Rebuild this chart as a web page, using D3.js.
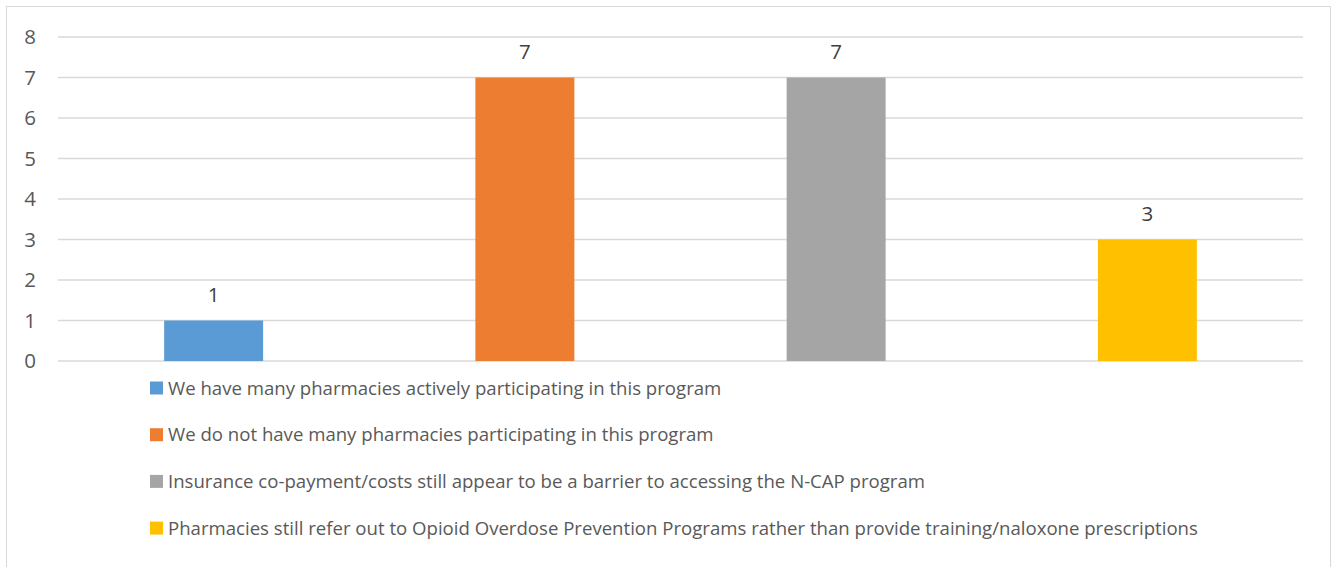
<!DOCTYPE html>
<html>
<head>
<meta charset="utf-8">
<script src="https://cdn.jsdelivr.net/npm/d3@7"></script>
<style>
  body { margin: 0; background: #fff; }
  svg { display: block; }
</style>
</head>
<body>
<div id="chart-area"></div>
<script>
var categories = [
    "We have many pharmacies actively participating in this program",
    "We do not have many pharmacies participating in this program",
    "Insurance co-payment/costs still appear to be a barrier to accessing the N-CAP program",
    "Pharmacies still refer out to Opioid Overdose Prevention Programs rather than provide training/naloxone prescriptions"
];
var counts = [1, 7, 7, 3];
var colors = ["#5B9BD5", "#ED7D31", "#A5A5A5", "#FFC000"];
var yTicks = [0, 1, 2, 3, 4, 5, 6, 7, 8];

var dims = {
    width: 1332,
    height: 567,
    plotLeft: 58,
    plotRight: 1303,
    plotTop: 37,
    plotBottom: 361,
    legendX: 150,
    legendY: 388,
    legendStep: 46.7
};
var fontFamily = "'Open Sans', 'Noto Sans', sans-serif";
var numberSize = "20.5px";
var legendSize = "18.6px";

var svg = d3.select("#chart-area")
    .append("svg")
    .attr("width", dims.width)
    .attr("height", dims.height);

// outer chart frame
svg.append("rect")
    .attr("x", 6.5)
    .attr("y", 6.5)
    .attr("width", 1324)
    .attr("height", 580)
    .attr("fill", "#fff")
    .attr("stroke", "#D9D9D9");

var x = d3.scaleBand()
    .domain(categories)
    .range([dims.plotLeft, dims.plotRight])
    .paddingInner(0.682)
    .paddingOuter(0.341);

var y = d3.scaleLinear()
    .domain([0, 8])
    .range([dims.plotBottom, dims.plotTop]);

// gridlines
svg.append("g")
    .selectAll("line")
    .data(yTicks)
    .enter().append("line")
    .attr("x1", dims.plotLeft)
    .attr("x2", dims.plotRight)
    .attr("y1", function (d) { return y(d); })
    .attr("y2", function (d) { return y(d); })
    .attr("stroke", "#D9D9D9")
    .attr("stroke-width", 1.3);

// y axis labels
var yAxis = svg.append("g")
    .attr("transform", "translate(36,0)")
    .call(d3.axisLeft(y).tickValues(yTicks).tickSize(0).tickPadding(0).tickFormat(d3.format("d")));
yAxis.select(".domain").remove();
yAxis.selectAll("text")
    .attr("fill", "#595959")
    .style("font-family", fontFamily)
    .style("font-size", numberSize);

// bars
svg.append("g")
    .selectAll("rect")
    .data(counts)
    .enter().append("rect")
    .attr("x", function (d, i) { return x(categories[i]); })
    .attr("y", function (d) { return y(d); })
    .attr("width", x.bandwidth())
    .attr("height", function (d) { return y(0) - y(d); })
    .attr("fill", function (d, i) { return colors[i]; });

// value labels
svg.append("g")
    .selectAll("text")
    .data(counts)
    .enter().append("text")
    .attr("x", function (d, i) { return x(categories[i]) + x.bandwidth() / 2; })
    .attr("y", function (d) { return y(d) - 18.5; })
    .attr("text-anchor", "middle")
    .attr("fill", "#404040")
    .style("font-family", fontFamily)
    .style("font-size", numberSize)
    .text(function (d) { return d; });

// legend
var legend = svg.append("g")
    .selectAll("g")
    .data(categories)
    .enter().append("g")
    .attr("transform", function (d, i) {
        return "translate(" + dims.legendX + "," + (dims.legendY + i * dims.legendStep) + ")";
    });
legend.append("rect")
    .attr("x", 0)
    .attr("y", -6.5)
    .attr("width", 13)
    .attr("height", 13)
    .attr("fill", function (d, i) { return colors[i]; });
legend.append("text")
    .attr("x", 18)
    .attr("y", 0)
    .attr("dy", "0.35em")
    .attr("fill", "#595959")
    .style("font-family", fontFamily)
    .style("font-size", legendSize)
    .text(function (d) { return d; });
</script>
</body>
</html>
